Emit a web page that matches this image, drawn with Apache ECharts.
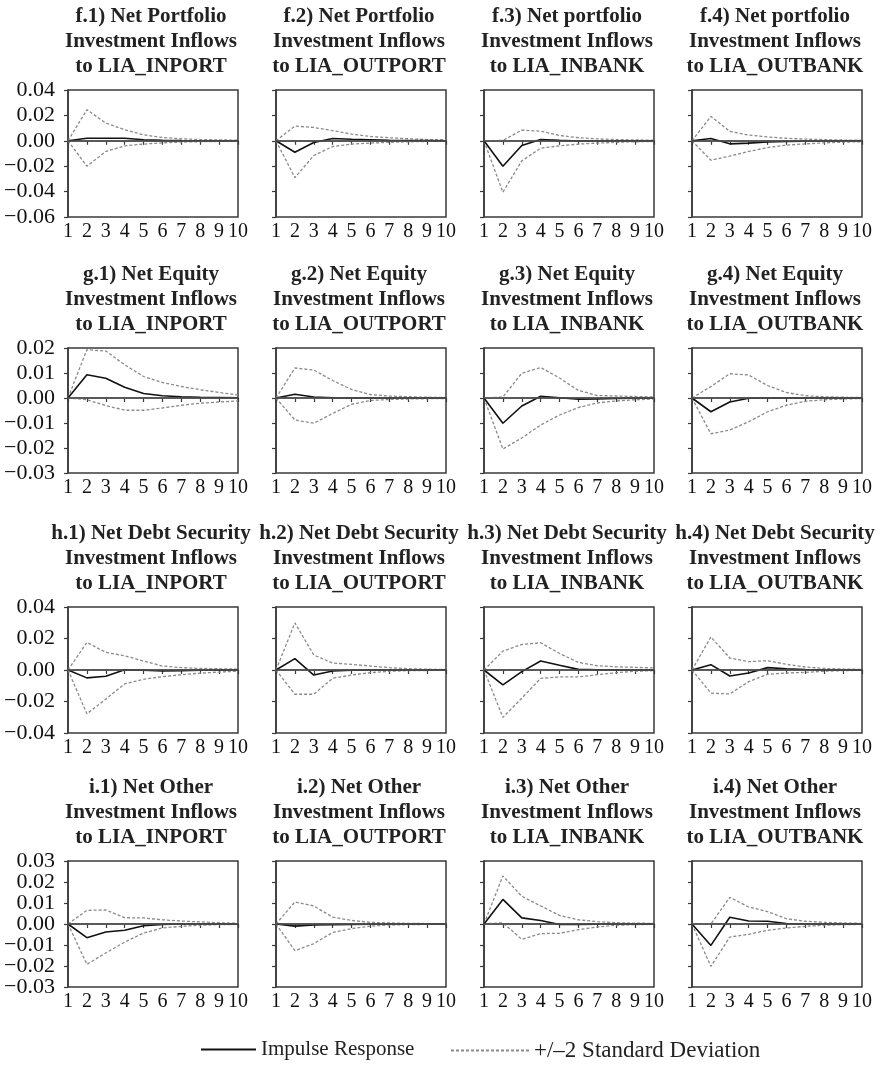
<!DOCTYPE html>
<html>
<head>
<meta charset="utf-8">
<script src="https://cdn.jsdelivr.net/npm/echarts@6/dist/echarts.min.js"></script>
<style>
html,body{margin:0;padding:0;background:#fff;}
#chart{width:886px;height:1068px;}
</style>
</head>
<body>
<div id="chart"></div>
<script>
// ---- data ----
const periods = ['1','2','3','4','5','6','7','8','9','10'];
const targets = ['LIA_INPORT','LIA_OUTPORT','LIA_INBANK','LIA_OUTBANK'];
const rowHeads = [
  ['f.1) Net Portfolio','f.2) Net Portfolio','f.3) Net portfolio','f.4) Net portfolio'],
  ['g.1) Net Equity','g.2) Net Equity','g.3) Net Equity','g.4) Net Equity'],
  ['h.1) Net Debt Security','h.2) Net Debt Security','h.3) Net Debt Security','h.4) Net Debt Security'],
  ['i.1) Net Other','i.2) Net Other','i.3) Net Other','i.4) Net Other']
];
const rowMin = [-0.06, -0.03, -0.04, -0.03];
const rowMax = [0.04, 0.02, 0.04, 0.03];
const rowStep = [0.02, 0.01, 0.02, 0.01];
const row4TicksA = [-0.03, -0.01, 0.01, 0.03];
const row4TicksB = [-0.02, 0, 0.02];
const legendNames = ['Impulse Response', '+/\u20132 Standard Deviation'];

const f1_imp = [0, 0.002, 0.002, 0.002, 0.0008, 0.0003, 0.0001, 0, 0, 0];
const f1_up  = [0, 0.0245, 0.014, 0.0087, 0.0047, 0.0026, 0.0016, 0.001, 0.0007, 0.0005];
const f1_lo  = [0, -0.02, -0.0084, -0.004, -0.0026, -0.0016, -0.001, -0.0007, -0.0005, -0.0003];
const f2_imp = [0, -0.009, -0.0013, 0.0018, 0.0012, 0.0008, 0.0004, 0.0002, 0.0001, 0];
const f2_up  = [0, 0.0116, 0.0105, 0.008, 0.0053, 0.0034, 0.0024, 0.0016, 0.001, 0.0008];
const f2_lo  = [0, -0.029, -0.0116, -0.0045, -0.0026, -0.0018, -0.0012, -0.0008, -0.0005, -0.0004];
const f3_imp = [0, -0.02, -0.0037, 0.001, 0.0003, -0.0002, -0.0001, 0, 0, 0];
const f3_up  = [0, 0.0003, 0.0084, 0.0076, 0.0042, 0.0024, 0.0015, 0.001, 0.0007, 0.0005];
const f3_lo  = [0, -0.0405, -0.0158, -0.0058, -0.004, -0.0026, -0.0018, -0.0012, -0.0008, -0.0005];
const f4_imp = [0, 0.0018, -0.0024, -0.0018, -0.001, -0.0006, -0.0003, -0.0001, 0, 0];
const f4_up  = [0, 0.0192, 0.0074, 0.0045, 0.003, 0.002, 0.0013, 0.0009, 0.0006, 0.0004];
const f4_lo  = [0, -0.0153, -0.012, -0.0084, -0.0053, -0.0034, -0.0024, -0.0016, -0.0011, -0.0007];

const g1_imp = [0, 0.0093, 0.0079, 0.0043, 0.0018, 0.0009, 0.0005, 0.0003, 0.0002, 0.0001];
const g1_up  = [0, 0.0193, 0.0188, 0.0133, 0.0086, 0.0062, 0.0046, 0.0033, 0.0022, 0.0012];
const g1_lo  = [0, -0.0007, -0.003, -0.0049, -0.0049, -0.004, -0.0029, -0.0021, -0.0016, -0.0012];
const g2_imp = [0, 0.0015, 0.0004, 0.0001, 0, 0, 0, 0, 0, 0];
const g2_up  = [0, 0.012, 0.0112, 0.007, 0.0034, 0.0014, 0.0008, 0.0005, 0.0003, 0.0002];
const g2_lo  = [0, -0.0088, -0.0101, -0.0062, -0.0025, -0.001, -0.0006, -0.0004, -0.0003, -0.0002];
const g3_imp = [0, -0.0101, -0.0032, 0.0007, 0.0001, -0.0005, -0.0004, -0.0002, -0.0001, 0];
const g3_up  = [0, 0.0004, 0.0099, 0.0122, 0.008, 0.003, 0.001, 0.0008, 0.0006, 0.0004];
const g3_lo  = [0, -0.0204, -0.016, -0.0108, -0.0068, -0.0038, -0.002, -0.0012, -0.0007, -0.0004];
const g4_imp = [0, -0.0055, -0.0016, -0.0001, 0, 0, 0, 0, 0, 0];
const g4_up  = [0, 0.0046, 0.0097, 0.0092, 0.005, 0.0022, 0.0009, 0.0005, 0.0003, 0.0002];
const g4_lo  = [0, -0.0143, -0.0128, -0.0095, -0.0055, -0.0029, -0.0013, -0.0007, -0.0004, -0.0002];

const h1_imp = [0, -0.005, -0.004, 0.0002, -0.0002, -0.0006, -0.0004, -0.0002, -0.0001, 0];
const h1_up  = [0, 0.0175, 0.0112, 0.009, 0.0057, 0.0025, 0.0015, 0.001, 0.0008, 0.0006];
const h1_lo  = [0, -0.0278, -0.0185, -0.0088, -0.0059, -0.0042, -0.003, -0.002, -0.0013, -0.0008];
const h2_imp = [0, 0.0072, -0.0032, -0.0006, -0.0002, 0, 0, 0, 0, 0];
const h2_up  = [0, 0.0299, 0.0095, 0.0044, 0.0036, 0.0025, 0.0015, 0.0008, 0.0005, 0.0003];
const h2_lo  = [0, -0.0154, -0.0154, -0.0053, -0.0032, -0.0017, -0.0008, -0.0004, -0.0003, -0.0002];
const h3_imp = [0, -0.0095, -0.001, 0.0057, 0.003, 0.0004, 0.0002, 0.0001, 0, 0];
const h3_up  = [0, 0.012, 0.0162, 0.0173, 0.0105, 0.0048, 0.0027, 0.002, 0.0017, 0.0013];
const h3_lo  = [0, -0.0301, -0.0179, -0.0053, -0.0044, -0.0044, -0.003, -0.0017, -0.0008, -0.0004];
const h4_imp = [0, 0.0034, -0.0038, -0.0019, 0.0015, 0.0008, 0.0003, 0.0001, 0, 0];
const h4_up  = [0, 0.021, 0.0076, 0.0053, 0.0059, 0.0036, 0.0019, 0.001, 0.0006, 0.0004];
const h4_lo  = [0, -0.0147, -0.0152, -0.0074, -0.0027, -0.0019, -0.0015, -0.0008, -0.0004, -0.0002];

const i1_imp = [0, -0.0065, -0.0038, -0.003, -0.0008, -0.0002, 0, 0, 0, 0];
const i1_up  = [0, 0.0065, 0.0067, 0.003, 0.0029, 0.002, 0.0014, 0.001, 0.0006, 0.0003];
const i1_lo  = [0, -0.0192, -0.0138, -0.0086, -0.0043, -0.0019, -0.0011, -0.0006, -0.0003, -0.0002];
const i2_imp = [0, -0.001, -0.0005, -0.0003, -0.0002, -0.0001, 0, 0, 0, 0];
const i2_up  = [0, 0.0105, 0.0086, 0.0033, 0.0017, 0.0008, 0.0005, 0.0003, 0.0002, 0.0001];
const i2_lo  = [0, -0.0127, -0.0094, -0.004, -0.0022, -0.001, -0.0005, -0.0003, -0.0002, -0.0001];
const i3_imp = [0, 0.0117, 0.0029, 0.0017, -0.0002, -0.0002, -0.0001, 0, 0, 0];
const i3_up  = [0, 0.0229, 0.0132, 0.0086, 0.0041, 0.002, 0.0011, 0.0006, 0.0004, 0.0003];
const i3_lo  = [0, 0.0006, -0.0073, -0.0046, -0.0044, -0.0027, -0.0014, -0.0006, -0.0003, -0.0002];
const i4_imp = [0, -0.0102, 0.0032, 0.0014, 0.0013, 0.0002, 0, 0, 0, 0];
const i4_up  = [0, 0.0, 0.0127, 0.0081, 0.0059, 0.0025, 0.0013, 0.0008, 0.0005, 0.0003];
const i4_lo  = [0, -0.0202, -0.0062, -0.0049, -0.003, -0.0019, -0.0011, -0.0006, -0.0003, -0.0002];

const panelData = [
  [[f1_imp,f1_up,f1_lo],[f2_imp,f2_up,f2_lo],[f3_imp,f3_up,f3_lo],[f4_imp,f4_up,f4_lo]],
  [[g1_imp,g1_up,g1_lo],[g2_imp,g2_up,g2_lo],[g3_imp,g3_up,g3_lo],[g4_imp,g4_up,g4_lo]],
  [[h1_imp,h1_up,h1_lo],[h2_imp,h2_up,h2_lo],[h3_imp,h3_up,h3_lo],[h4_imp,h4_up,h4_lo]],
  [[i1_imp,i1_up,i1_lo],[i2_imp,i2_up,i2_lo],[i3_imp,i3_up,i3_lo],[i4_imp,i4_up,i4_lo]]
];

// ---- layout ----
const colLeft = [68, 276, 484, 692];
const plotW = 170;
const rowTop = [90, 348, 607, 861];
const rowH = [127, 125, 126, 126];
const FONT = '"Liberation Serif", "Times New Roman", serif';
const AX = '#3a3a3a';

const grids = [], xAxes = [], yAxes = [], series = [], graphics = [];

function fmt(v) {
  if (Math.abs(v) < 1e-9) return '0.00';
  return (v < 0 ? '\u2212' : '') + Math.abs(v).toFixed(2);
}
const yLabelBase = { margin: 13, color: '#111', fontFamily: FONT, fontSize: 22, formatter: fmt };

for (let r = 0; r < 4; r++) {
  for (let c = 0; c < 4; c++) {
    const idx = r * 4 + c;
    grids.push({
      left: colLeft[c], top: rowTop[r], width: plotW, height: rowH[r],
      show: true, borderColor: AX, borderWidth: 1.5, backgroundColor: 'transparent'
    });
    xAxes.push({
      type: 'category', gridIndex: idx, data: periods, boundaryGap: false,
      axisLine: { show: true, lineStyle: { color: AX, width: 1.5 } },
      axisTick: { show: true, length: 4, lineStyle: { color: AX, width: 1.2 } },
      axisLabel: { show: true, interval: 0, margin: 5, color: '#111', fontFamily: FONT, fontSize: 20 },
      splitLine: { show: false }
    });
    const split = (r === 3 && c === 0);
    const lab = Object.assign({ show: c === 0 }, yLabelBase);
    if (split) lab.customValues = row4TicksA;
    yAxes.push({
      type: 'value', gridIndex: idx, min: rowMin[r], max: rowMax[r], interval: rowStep[r],
      axisLine: { show: true, lineStyle: { color: AX, width: 1.5 } },
      axisTick: { show: true, length: 4, lineStyle: { color: AX, width: 1.2 } },
      axisLabel: lab,
      splitLine: { show: false }
    });
    const d = panelData[r][c];
    series.push({
      name: legendNames[0], type: 'line', xAxisIndex: idx, yAxisIndex: idx, data: d[0],
      symbol: 'none', z: 4, animation: false,
      lineStyle: { color: '#111', width: 1.6 }, itemStyle: { color: '#111' },
      markLine: {
        silent: true, symbol: ['none', 'none'], animation: false, label: { show: false },
        lineStyle: { color: '#555', type: 'solid', width: 1.5 },
        data: [{ yAxis: 0 }]
      }
    });
    series.push({
      name: legendNames[1], type: 'line', xAxisIndex: idx, yAxisIndex: idx, data: d[1],
      symbol: 'none', z: 3, animation: false,
      lineStyle: { color: '#8a8a8a', width: 1.3, type: [3, 2] }, itemStyle: { color: '#8a8a8a' }
    });
    series.push({
      name: legendNames[1], type: 'line', xAxisIndex: idx, yAxisIndex: idx, data: d[2],
      symbol: 'none', z: 3, animation: false,
      lineStyle: { color: '#8a8a8a', width: 1.3, type: [3, 2] }, itemStyle: { color: '#8a8a8a' }
    });
    graphics.push({
      type: 'text',
      x: colLeft[c] + plotW / 2 - 2, y: rowTop[r] - 86,
      style: {
        text: rowHeads[r][c] + '\nInvestment Inflows\nto ' + targets[c],
        align: 'center', verticalAlign: 'top',
        fontFamily: FONT, fontWeight: 'bold', fontSize: 21, lineHeight: 25,
        fill: '#222'
      }
    });
  }
}
// extra label-only axis for panel i.1 so that densely spaced tick labels all show
yAxes.push({
  type: 'value', gridIndex: 12, position: 'left', min: rowMin[3], max: rowMax[3], interval: rowStep[3],
  axisLine: { show: false }, axisTick: { show: false }, splitLine: { show: false },
  axisLabel: Object.assign({ show: true, customValues: row4TicksB }, yLabelBase)
});

const hiddenMarker = { color: 'rgba(0,0,0,0)', borderColor: 'rgba(0,0,0,0)', borderWidth: 0, opacity: 0 };

const chart = echarts.init(document.getElementById('chart'), null, { renderer: 'canvas' });
chart.setOption({
  backgroundColor: '#fff',
  animation: false,
  grid: grids,
  xAxis: xAxes,
  yAxis: yAxes,
  series: series,
  graphic: graphics,
  legend: [
    {
      data: [legendNames[0]], left: 195, top: 1034,
      itemWidth: 55, itemHeight: 12, itemGap: 0,
      itemStyle: hiddenMarker,
      textStyle: { fontFamily: FONT, fontSize: 21, color: '#222' }
    },
    {
      data: [legendNames[1]], left: 445, top: 1034,
      itemWidth: 78, itemHeight: 12, itemGap: 0,
      itemStyle: hiddenMarker,
      textStyle: { fontFamily: FONT, fontSize: 23, color: '#222' }
    }
  ]
});
</script>
</body>
</html>
